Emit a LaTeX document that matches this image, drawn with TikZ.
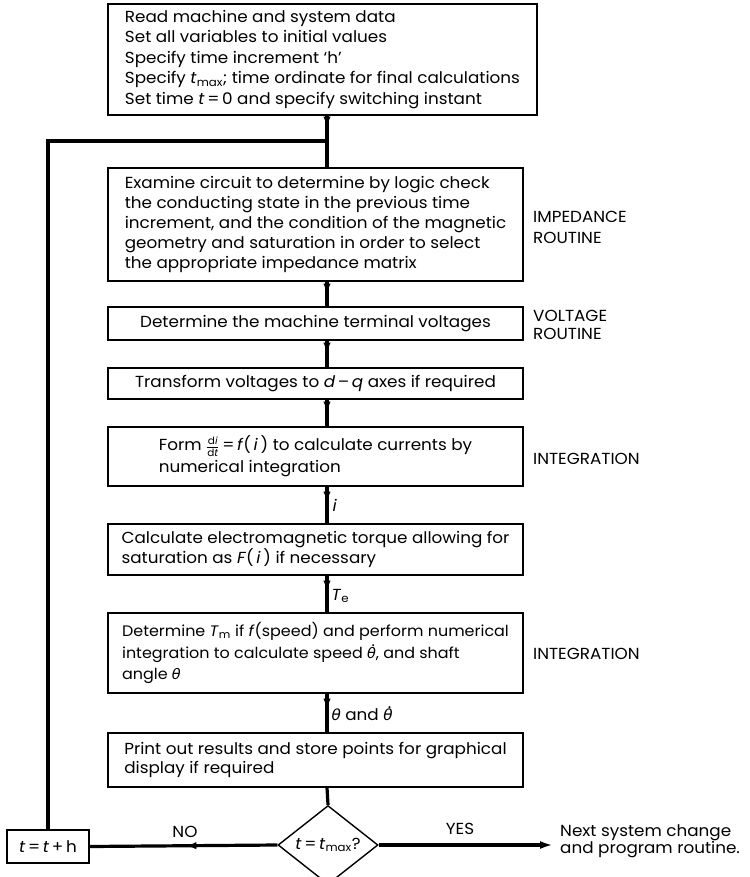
\RequirePackage{fix-cm}
\documentclass[tikz,border=0pt]{standalone}
\usepackage{fontspec}
\setmainfont{Poppins}[FakeStretch=1.05]
\newfontfamily\grk{DejaVu Sans}[Scale=0.95]
\usetikzlibrary{shapes.geometric,arrows.meta,decorations.markings}
\newcommand{\vv}[1]{\textit{#1}}
\newcommand{\vsb}[2]{\textit{#1}\textsubscript{#2}}
\newcommand{\smf}{\fontsize{10}{10}\selectfont}
\newcommand{\thA}{{\grk\itshape θ}}
\newcommand{\thB}{\leavevmode\hbox{\ooalign{\thA\cr\hidewidth\raisebox{0.78em}{\kern0.22em.}\hidewidth\cr}}}
\tikzset{
  txt/.style={font=\fontsize{16}{19.8}\selectfont},
  box/.style={draw, line width=1.4pt, rectangle, align=left, inner sep=0pt, txt},
  spine/.style={line width=3.2pt},
  midarrow/.style={postaction={decorate}, decoration={markings, mark=at position #1 with {\arrow{Latex[length=10pt,width=7.5pt]}}}},
  side/.style={txt, anchor=west, align=left, inner sep=0pt},
  lbl/.style={txt, anchor=west, inner sep=0pt}
}
\begin{document}
\begin{tikzpicture}[x=1pt,y=-1pt]
\useasboundingbox (0,0) rectangle (749,877);
\coordinate (j) at (327,141);
\node[box, minimum width=429pt, minimum height=111pt, font=\fontsize{16}{20.5}\selectfont] (b1) at (322.5,59.5)
 {Read machine and system data\\
  Set all variables to initial values\\
  Specify time increment `h'\\
  Specify \vsb{t}{max}; time ordinate for final calculations\\
  Set time \vv{t}\,=\,0 and specify switching instant};
\node[box, minimum width=415pt, minimum height=113pt] (b2) at (315.5,224.5)
 {Examine circuit to determine by logic check\\
  the conducting state in the previous time\\
  increment, and the condition of the magnetic\\
  geometry and saturation in order to select\\
  the appropriate impedance matrix};
\node[box, minimum width=415pt, minimum height=33pt] (b3) at (315.5,323.5)
 {Determine the machine terminal voltages};
\node[box, minimum width=415pt, minimum height=31pt] (b4) at (315.5,383.5)
 {Transform voltages to \vv{d}\,--\,\vv{q} axes if required};
\node[box, minimum width=415pt, minimum height=59pt, font=\fontsize{16}{22}\selectfont] (b5) at (315.5,456.5)
 {Form $\frac{\mbox{\smf d\vv{i}}}{\mbox{\smf d\vv{t}}}$\,=\,\vv{f}(\,\vv{i}\,) to calculate currents by\\
  numerical integration};
\node[box, minimum width=415pt, minimum height=51pt] (b6) at (315.5,549.5)
 {Calculate electromagnetic torque allowing for\\
  saturation as \vv{F}(\,\vv{i}\,) if necessary};
\node[box, minimum width=415pt, minimum height=80pt, font=\fontsize{15.2}{21.5}\selectfont] (b7) at (315.5,653)
 {Determine \vsb{T}{m} if \vv{f}(speed) and perform numerical\\
  integration to calculate speed \thB, and shaft\\
  angle \thA};
\node[box, minimum width=415pt, minimum height=54pt] (b8) at (315.5,760)
 {Print out results and store points for graphical\\
  display if required};
\node[draw, line width=1.4pt, diamond, minimum width=100pt, minimum height=60pt, inner sep=0pt, txt] (dia) at (328,845) {\vv{t}\,=\,\vsb{t}{max}?};
\node[box, minimum width=82pt, minimum height=33pt] (tb) at (48,846.5) {\vv{t}\,=\,\vv{t}\,+\,h};
\coordinate (nxt) at (553,845);
\node[side, font=\fontsize{16}{21}\selectfont] (s1) at (533,227) {IMPEDANCE\\ROUTINE};
\node[side, font=\fontsize{16}{18.5}\selectfont] (s2) at (533,325) {VOLTAGE\\ROUTINE};
\node[side] (s3) at (533,459) {INTEGRATION};
\node[side] (s4) at (533,654) {INTEGRATION};
\node[side, font=\fontsize{16}{17.5}\selectfont] (s5) at (560,841) {Next system change\\and program routine.};
\node[txt, inner sep=0pt] (no) at (185,832) {NO};
\node[txt, inner sep=0pt] (yes) at (460,829) {YES};
% spine
\draw[spine, midarrow=11pt] (b1.south -| j) -- (b2.north -| j);
\draw[spine, midarrow=12pt] (b2.south -| j) -- (b3.north -| j);
\draw[spine, midarrow=12pt] (b3.south -| j) -- (b4.north -| j);
\draw[spine, midarrow=12pt] (b4.south -| j) -- (b5.north -| j);
\draw[spine, midarrow=15pt] (b5.south -| j) -- node[lbl, pos=0.5, right=4pt] (li) {\vv{i}} (b6.north -| j);
\draw[spine, midarrow=15pt] (b6.south -| j) -- node[lbl, pos=0.55, right=3pt] (lt) {\vsb{T}{e}} (b7.north -| j);
\draw[spine, midarrow=15pt] (b7.south -| j) -- node[lbl, pos=0.55, right=3pt] (lth) {\thA{} and \thB} (b8.north -| j);
\draw[spine] (b8.south -| j) -- (dia.north);
% loop
\draw[spine, midarrow=91pt] (dia.west) -- (tb.east);
\draw[spine] (tb.north) -- (tb.north |- j) -- (j);
\draw[spine, -{Latex[length=13pt,width=8pt]}] (dia.east) -- (nxt);
\end{tikzpicture}
\end{document}
